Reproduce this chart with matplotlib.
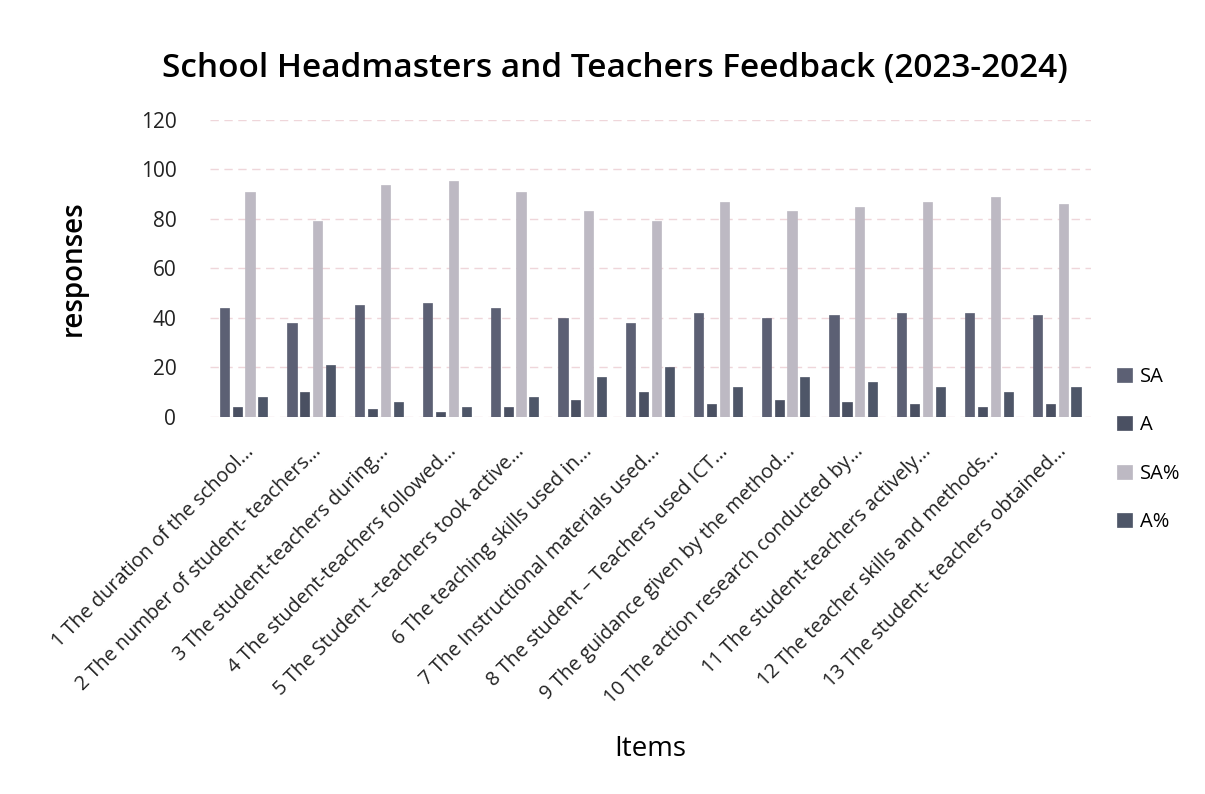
import numpy as np
import matplotlib
matplotlib.use("Agg")
import matplotlib.pyplot as plt

plt.rcParams['font.family'] = ['Open Sans', 'DejaVu Sans']

# Survey items (truncated as in the source chart)
items = [
    "1 The duration of the school...",
    "2 The number of student- teachers...",
    "3 The student-teachers during...",
    "4 The student-teachers followed...",
    "5 The Student \u2013teachers took active...",
    "6 The teaching skills used in...",
    "7 The Instructional materials used...",
    "8 The student \u2013 Teachers used ICT...",
    "9 The guidance given by the method...",
    "10 The action research conducted by...",
    "11 The student-teachers actively...",
    "12 The teacher skills and methods...",
    "13 The student- teachers obtained...",
]

sa = [44, 38, 45, 46, 44, 40, 38, 42, 40, 41, 42, 42, 41]
a = [4, 10, 3, 2, 4, 7, 10, 5, 7, 6, 5, 4, 5]
sa_pct = [91, 79, 93.5, 95.5, 91, 83, 79, 87, 83, 85, 87, 89, 86]
a_pct = [8, 21, 6, 4, 8, 16, 20, 12, 16, 14, 12, 10, 12]

series = [
    ("SA", sa, '#5c6074'),
    ("A", a, '#4a5062'),
    ("SA%", sa_pct, '#bdb9c3'),
    ("A%", a_pct, '#4e5668'),
]

fig = plt.figure(figsize=(12.05, 7.94), dpi=100)
ax = fig.add_axes([0.174, 0.475, 0.731, 0.374])

x = np.arange(len(items))
step = 0.19
width = 0.135
for i, (name, vals, col) in enumerate(series):
    ax.bar(x + (i - 1.5) * step, vals, width, color=col, label=name,
           edgecolor=col, linewidth=0.5, zorder=3)

ax.set_xlim(-0.5, len(items) - 0.5)
ax.set_ylim(0, 120)
ax.set_yticks(range(0, 121, 20))
ax.grid(axis='y', color='#efd6da', linestyle=(0, (6, 4)), linewidth=1, zorder=0)
for s in ax.spines.values():
    s.set_visible(False)
ax.tick_params(axis='both', length=0, colors='#222222')
ax.tick_params(axis='y', pad=24, labelsize=15)
ax.tick_params(axis='x', pad=18)

ax.set_xticks(x)
ax.set_xticklabels(items, rotation=45, ha='right', rotation_mode='anchor',
                   fontsize=14.3)

ax.set_ylabel("responses", fontsize=20, fontweight='semibold', labelpad=38)
ax.set_xlabel("Items", fontsize=20)
ax.xaxis.set_label_coords(0.50, -1.07)

fig.suptitle("School Headmasters and Teachers Feedback (2023-2024)",
             x=0.51, y=0.935, fontsize=24, fontweight='semibold')

ax.legend(loc='center left', bbox_to_anchor=(1.01, -0.11), frameon=False,
          fontsize=14.5, handlelength=0.7, handleheight=0.7,
          labelspacing=1.4, handletextpad=0.4)

fig.savefig("out.png", dpi=100)
